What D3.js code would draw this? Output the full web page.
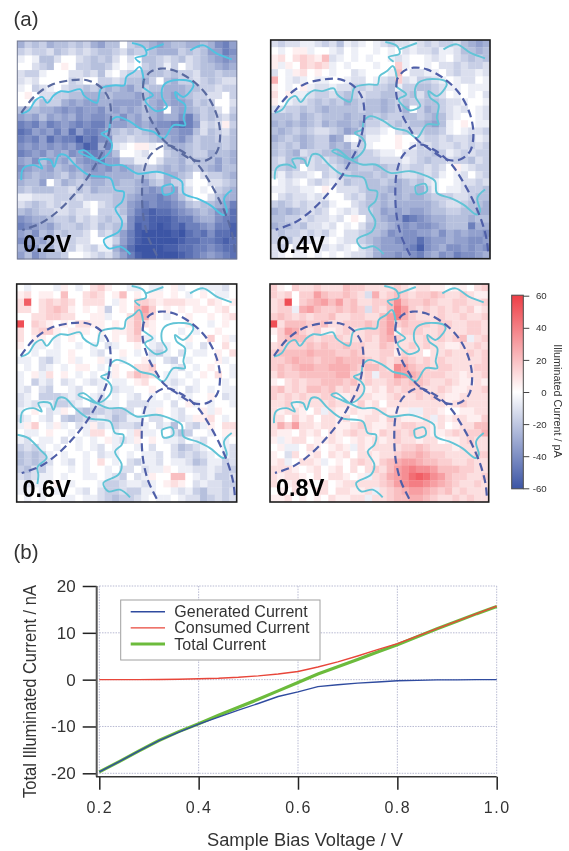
<!DOCTYPE html>
<html><head><meta charset="utf-8">
<script src="https://cdn.jsdelivr.net/npm/d3@7"></script>
<style>html,body{margin:0;padding:0;background:#fff}svg{display:block;filter:blur(0.5px);font-family:"Liberation Sans",Arial,sans-serif}</style>
</head><body><svg id="c" width="569" height="851"></svg>
<script>
// Heatmap cells, one letter per cell: '.'=0 pA, a..l = +5 pA steps, A..L = -5.6 pA steps
const heat02 = [
"ECDCEDDCDC EFDD.CDDEF EDDEEDEGHF","CBCCBDCBCB CDDCBDCCDE EECDCDFFHG","A.ADDB..BC DCDB.B.DDC BCDBCDEFGF",
"..BCD.a.CC DDCA.A.CDC AC.BCDDEFE","BCCA...BBC BDA.BCCDDD CDCCBDDCDD","BAB....CB. .CCBCDDEC. DECCBCDCBB",
"A.CBA.BCCD CDEDEFDCDD EEEDDCCBCC",".a.BBCCDDE EEDEEEFDEE EFEDCCBB.C","..BDCCEFEF FEEFFFFDEF EFFECDC..B",
"DDDEEFGFGF FGEFEFEDEF .EFEDCDB.C","FEFDFEFEGF GGFEGEFDEF EEGHECDCBD","HGHFHGFGHG HHFFFEFEFG GHIHFBCBaC",
"IHFGFHFIFH HGEDCDCDEF FFGGDBDCBD","HGHFIGHHJH IGGCCBCCDE EFGECDDCCD","GFGFGFGFHJ IEHBA.aaA. DEEDCDDDCD",
"HGFGEFEGFH HGFD..AB.. CDEDCCEDDE","FEGDFEFDFG GHFFCCAA.B DDECDDDFDE","GFEEFDEFEF GFGEFEDCCD EDEDCDEFDD",
"FEDEEDCEDE FFEEEEDDCB EEDC.BCCDE","EDDF.CEDCD EEDEDDEFDC ECCA..BBCD","DCDDDCCBDC EDDDDDEFGF EFCB.A.CDE",
"AABBBCCCBC CCCDDEFGGH GFDB..BDEE","BCDCBCBCCA .BCDDFGHGH HGFDCDDEFH","DEDCCBBCBB .CCCDFHIJI IHGFEDEGGI",
"GFEEDCCDBC BCDCCGIIJJ JIHHFEEGHI","HGFEFDCCDC BDCDDGJIJK JIJHHGFHHJ","FEGDECDCCB .CBDFHJKKK KJKIHIGIIJ",
"GFEFDCBCBB ..ACFHJKLK KKJIIHHIJI","EGFDECBCAB CAAEGIKKLK JJIIHHGHII","FDGEDDC..A BCBDFHJKKL KKJIHGFGHI"];
const heat04 = [
"BCBBAABCBD ABA.ABCBBA BCBCCBDEFE",".A.aaA..AB .A..A.A.BA BBCAABDDED","ab.bcbadBA .A.A..ABA. .ABA.BCDCD",
"aAa.cbcbA. A...A..cA. .A.BBCBCCB","B.Aab.a.A. .BA...Ad.B BAA.BCBBAB","e.ABA.AA.. ABB.ABCcBA CCBA.ABB.A",
"a.A.aABBAB BCCBCCDACC DDCBAA.AAA","b.aAABCCBC DCBCCDDCCD BDCB.A.A.B","a.ABBCDCDC EDCDDEDCDC CDDCBBA..A",
"BBCCDCDEDD DDCDDEDCE. CEDCBAB.AB","DDDCEDCDDD EDDDCDCCDD CDEDBA..AB","EDEDEDCEDE EDECCBCDCD DEFDA.a.AA",
"DEDCDCBBCD FECBBA.BCC CDDCA.ABBC","EDCDEDCCFE A.DAA..a.. BCCBCBBCAB","DCDCEDCCED EBCA...a.A CBCBBCBCBC",
"DCDEBCCDDE EDCCBAA.BB CCDCABCBCC","CBDCDBCBCD EECCCBBBAB CDCCBCCDBC","CCDC.BCCBC DDCCDDCCBC CBCB.aABCC",
"BACBBA.CBC CDDDCDCCBB CBCA.AB.BC",".ABA.BCBAB DCCDDCDEDC DBA..ABBCB","AABBAA.a.B BBCDDDEEDD ECA.AABCCD",
".BCBBABA.. BCBDDEDEDE EDCCCBBCDD","CDCBCBBCA. .BCDDEDEEE EEDCBBCDDE","EDEDCBCB.A BACCDFEFEF FEDDCCDDEE",
"DDCCBCBBAB .a.CDEFFIH GFEEDDDEDD","EDDCDBBAB. A.BDDDEFGF GGFEDDDHEE","CDCCBCBCA. BBCDDEGFGG FFEGEFEFFG",
"CBDBCBAA.A BBCDEFFGGG IGFFEFFGGF","BC.B..ABAB A.BCEFFFGH JGFEGGFGFG","BA.AA.A.A. ABBCEFFGFG HFEGFHGGFE"];
const heat06 = [
".A...Aa.A. bca..AA.AA .aA..AAAB.","ab.aa.d..b cb.ad.a.aa .a.A.a.AA.","bj.bcbcb.b bb.Aa.ccba bbbaa.ba.a",
"bb.bcdca.a .aC.a.dfc. a.a.aa.ab.","..bbccbb.. aaA..bdeb. A..a..a.ab","k.cba.a.bb aa.a.bdba. ...a..A.a.",
"b.bcca.aaa .a.aabd.a. ..A.A..a..","b.aa.A.a.. .A.a.bcAA. ...a..c.aA","a.AA.A..A. A.BA..a.AB A..A.B..b.",
"..A.AA.a.. AB..a.A.BC A.B.AA.a.b","AA.BCA.aA. .aA.A..aA. BC.A...aA.",".A.BA.A.aa .A.a..bbc. .AB.A.a..A",
"A.aAb.a.A. A.Aa.bdcb. AA.A.a.b.A","A.CAB.BA.A BA.AA.ab.. ABA.A...A.","AB.BC..AB. .A.BAA..a. .A.BA.A.AA",
"BA.CCCBAB. AB.A.AB.A. A.AA..a.BA","BABAACCBA. BBAA.BBBAA .B.aA.A..A","A.a.BAa.CD CCBCCB.AAa .AB..aAa..",
"BA.AB.CDCB BABDCAA.BB .ABAaab.A.","Aac.AaA.BA aBACBBCA.B AD.BCAa.bb",".AA.a..A.A bb.A.AbAA. .BDC..A.aa",
"AB.AA.B.A. A.aABAa.a. AAB.AB..A.","CBCA.A..A. AB.A..A.B. .BDCBA..AB","DCDCA.A..A .BAA.A.AAB .BCBCBA.AB",
"DCDCB.AB.A .b.A.BCAAB .AABDCAACB","CDBCA..A.A ..A.BB.BAA a.AABBABCC","BCBAA.A..A A.ABC.BAa. .dd.ABACCB",
"ABAA.a.A.. .ACCBAABA. aba.BABBCC","AA.A.A..AB .BCCBCCAA. .ABACDBBCB",".A.A..AA.A ABCDCCBA.A A.ABBDCBCB"];
const heat08 = [
"ca.cbbcbbb dccbbbbcba bbaa.aa.bc","cbc.ccfdcc dcbBebcdcb ccdcbbcbaa","bck.cdefdf cdbbccdgdc cdcbbccbbc",
"bccAefdccd cdcBcbdhfc bcbcbcbcab","cdcbcbccdb bccbbdfhec bbbcbbcbbc","kbdddccdbb cccdcdfcdc ccbccbbccb",
"acfecbcaab cbbccdfacc cbbcbbbccb",".cdddcbccc bbbcbdecbb bcbcbcdAbc","bccccdcdcc dccbbdcbbc bcbbaabbcb",
"cddddedddc cdcbbccacb b.bbcbbcbc","ccdeddcdde dddcbcbcdc bcbcbbbbbc","cdcdeeddee edcddcbgfd ccbccbbbcc",
"bdccddddde ecbcAccgfe dcccbbabbc","a.bcbccddd cdbcbbcdcd dcbbcbaaba","cdbcbddcdb cbbabacbcc cbbcbaabbc",
"cbcbcbbcca abbbaabcbb cbcbaabbbb","bbcabbbbcb bacab.bbbb bbbbabcbbb","babba.bAba abaabbaaaA Abba..aabb",
"bb.cab.bba b.abbacbaa abAbabbaac","becfbbabba abcbaabbcc bbab.abbdd","baa.bab.ba bcbbacbcbc bbaabcbcce",
"aAabb.aaba .abababcbb abb.aabcbb",".aAA.ba.ab aAbabbbbcc dcbbbabbbb","a.Bb.ab.ba b.bbabbcdd edccbbbbcc",
"abA.bbaA.a .bcbacdeff eddccbbcbb","bbba.ab.ab .b.bcbdfgh ggfdddccbb","babba.b.bb a.aAbcefgi jigfdccbbc",
"b.ab.a.b.a bbbbbcdfgh hgfedcbbcb",".a.b..bb.b baabAbcdef fedcdbcbbb","aab.a.a.ba abbAbbcdde edcbbcbcbb"];

// Contours traced in map units (x 50..710, y 27..682)
const boundaryMain = [[62,245],[85,235],[105,205],[125,195],[140,213],[160,190],[180,178],[205,180],[240,172],[250,190],[270,205],[290,212],[302,170],[345,160],[372,160],[378,135],[400,120],[418,105],[430,145],[428,165],[458,190],[435,205],[455,230],[470,238],[500,225],[485,195],[490,160],[520,145],[575,150],[580,160],[550,195],[525,180],[530,200],[555,220],[550,260],[555,280],[520,280],[490,320],[460,300],[420,290],[390,270],[350,255],[330,270],[325,295],[303,305],[325,320],[335,340],[320,370],[290,385],[265,375],[235,360],[250,355],[290,385],[325,400],[365,400],[410,425],[470,420],[520,435],[545,450],[550,485],[590,500],[630,520],[670,550],[680,540],[672,500],[695,475]];
const boundaryLower = [[62,445],[68,410],[100,400],[125,410],[115,385],[150,385],[160,405],[175,370],[195,370],[225,400],[265,430],[330,440],[345,475],[370,480],[365,510],[345,530],[365,570],[355,600],[310,625],[325,650],[360,645],[390,668]];
const boundaryTopA = [[395,33],[430,45],[438,68],[405,78],[420,92]];
const boundaryTopB = [[438,55],[490,36]];
const boundaryTopC = [[570,55],[610,40],[650,65],[695,82]];
const boundaryLoop = [[485,465],[515,458],[520,480],[490,488],[485,465]];
const boundaryCorner = [[52,480],[85,490],[120,525],[140,548],[112,578],[115,600],[112,628]];
const grainLeft = [[62,243],[100,195],[150,160],[210,145],[260,145],[300,165],[325,200],[332,245],[328,290],[315,340],[290,390],[262,437],[220,490],[170,540],[120,575],[65,595]];
const grainUpper = [[430,145],[428,190],[445,250],[470,295],[490,325],[530,355],[580,385],[620,385],[650,360],[660,310],[650,250],[620,190],[575,145],[520,115],[480,110],[450,120],[430,145]];
const grainLower = [[470,672],[445,620],[430,560],[425,490],[430,420],[450,370],[495,340],[540,355],[590,395],[625,445],[660,510],[685,570],[700,625],[705,672]];

const panelLabels = ["0.2V","0.4V","0.6V","0.8V"];
const scaleTicks = [60,40,20,0,-20,-40,-60];

const voltage   = [0.2,0.24,0.28,0.32,0.36,0.4,0.44,0.48,0.52,0.56,0.6,0.64,0.68,0.72,0.76,0.8,0.84,0.88,0.92,0.96,1.0];
const generated = [-19.7,-17.5,-15.2,-13,-11.2,-9.5,-8,-6.5,-5.1,-3.6,-2.6,-1.5,-1.1,-0.75,-0.5,-0.25,-0.15,-0.05,-0.05,0,0];
const consumed  = [0,0,0,0.02,0.1,0.2,0.3,0.5,0.8,1.2,1.75,2.7,3.8,5.05,6.4,7.7,9.3,10.9,12.5,14.1,15.7];
const total     = [-19.7,-17.5,-15.2,-13,-11.1,-9.4,-7.6,-5.9,-4.2,-2.4,-0.6,1.2,2.75,4.3,5.9,7.45,9.15,10.85,12.45,14.1,15.6];
const xTicks = [0.2,0.4,0.6,0.8,1.0];
const yTicks = [-20,-10,0,10,20];
const legendNames = ["Generated Current","Consumed Current","Total Current"];

const svg = d3.select("#c");
const color = d3.scaleLinear().domain([-60,0,60]).range(["#3c55a5","#ffffff","#ee3e46"]).clamp(true);
const levelOf = ch => {
  if (ch === ".") return 0;
  const c = ch.charCodeAt(0);
  return c >= 97 ? (c-96)*5 : -(c-64)*5.6;
};
const frames = [
 {heat:heat02,x:17.3,y:41,w:219.5,h:218,stroke:"#70778f",sw:1,dash:"#5a6a9f",lab:[23,252]},
 {heat:heat04,x:270.7,y:40,w:219.3,h:218.7,stroke:"#1c1c1c",sw:1.6,dash:"#4f5fa8",lab:[276.5,253]},
 {heat:heat06,x:16.7,y:284,w:220,h:218,stroke:"#1c1c1c",sw:1.6,dash:"#4f5fa8",lab:[22.5,497]},
 {heat:heat08,x:270,y:284,w:218.7,h:218,stroke:"#1c1c1c",sw:1.6,dash:"#4f5fa8",lab:[276,496]}
];
const idx = d3.range(30);
frames.forEach((f,i)=>{
  const g = svg.append("g");
  const cid = "clip"+i;
  svg.append("clipPath").attr("id",cid).append("rect").attr("x",f.x).attr("y",f.y).attr("width",f.w).attr("height",f.h);
  const bx = d3.scaleBand().domain(idx).range([f.x,f.x+f.w]);
  const by = d3.scaleBand().domain(idx).range([f.y,f.y+f.h]);
  const cells = f.heat.flatMap((row,r)=>Array.from(row.replace(/ /g,"")).map((ch,c)=>({r,c,v:levelOf(ch)})));
  g.append("g").selectAll("rect").data(cells).join("rect")
   .attr("x",d=>bx(d.c)).attr("y",d=>by(d.r)).attr("width",bx.bandwidth()+0.3).attr("height",by.bandwidth()+0.3)
   .attr("fill",d=>color(d.v));
  const mx = d3.scaleLinear().domain([50,710]).range([f.x,f.x+f.w]);
  const my = d3.scaleLinear().domain([27,682]).range([f.y,f.y+f.h]);
  const smooth = d3.line().x(d=>mx(d[0])).y(d=>my(d[1])).curve(d3.curveCatmullRom);
  const over = g.append("g").attr("clip-path",`url(#${cid})`);
  const bounds = [boundaryMain,boundaryLower,boundaryTopA,boundaryTopB,boundaryTopC,boundaryLoop];
  if (i===2) bounds.push(boundaryCorner);
  bounds.forEach(b=>over.append("path").attr("d",smooth(b)).attr("fill","none").attr("stroke",i===0?"#4fc3e0":"#62c4d6").attr("stroke-width",1.9).attr("stroke-linejoin","round"));
  [grainLeft,grainUpper,grainLower].forEach(b=>over.append("path").attr("d",smooth(b)).attr("fill","none").attr("stroke",f.dash).attr("stroke-width",2.2).attr("stroke-dasharray","8,4.5"));
  g.append("rect").attr("x",f.x).attr("y",f.y).attr("width",f.w).attr("height",f.h).attr("fill","none").attr("stroke",f.stroke).attr("stroke-width",f.sw);
  g.append("text").attr("x",f.lab[0]).attr("y",f.lab[1]).attr("font-size",23.5).attr("font-weight","bold").attr("fill","#000").text(panelLabels[i]);
});

// colour bar
const barY = d3.scaleLinear().domain([-60,60]).range([488.3,295.7]);
const grad = svg.append("defs").append("linearGradient").attr("id","bar").attr("x1",0).attr("x2",0).attr("y1",1).attr("y2",0);
[-60,0,60].forEach(v=>grad.append("stop").attr("offset",(v+60)/120).attr("stop-color",color(v)));
svg.append("rect").attr("x",511.7).attr("y",295.2).attr("width",11.6).attr("height",193.6).attr("fill","url(#bar)").attr("stroke","#4a4a4a").attr("stroke-width",1);
const barAxis = svg.append("g").attr("transform","translate(523.3,0)")
  .call(d3.axisRight(barY).tickValues(scaleTicks).tickSize(6).tickPadding(1).tickFormat(String));
barAxis.select(".domain").remove();
barAxis.selectAll("line").attr("stroke","#444");
barAxis.selectAll("text").attr("text-anchor","end").attr("x",23.4).attr("font-size",9.7).attr("fill","#333").attr("font-family","inherit");
svg.append("text").attr("transform","translate(554,401) rotate(90)").attr("text-anchor","middle").attr("font-size",10.8).attr("fill","#333").text("Illuminated Current / pA");

// panel letters
svg.append("text").attr("x",13.5).attr("y",26).attr("font-size",20.5).attr("fill","#333").text("(a)");
svg.append("text").attr("x",13.5).attr("y",559).attr("font-size",20.5).attr("fill","#333").text("(b)");

// line chart
const x = d3.scaleLinear().domain([0.2,1.0]).range([99.3,496.7]);
const y = d3.scaleLinear().domain([-20,20]).range([773.3,586]);
const grid = svg.append("g").attr("stroke","#b8bad2").attr("stroke-width",1).attr("stroke-dasharray","1.5,1.2");
xTicks.forEach(t=>grid.append("line").attr("x1",x(t)).attr("x2",x(t)).attr("y1",y(20)).attr("y2",y(-20)+1));
yTicks.forEach(t=>grid.append("line").attr("x1",x(0.2)).attr("x2",x(1)).attr("y1",y(t)).attr("y2",y(t)));

const pts = a => a.map((v,i)=>[voltage[i],v]);
const ln = d3.line().x(d=>x(d[0])).y(d=>y(d[1]));
const series = [
  {vals:generated,name:legendNames[0],col:"#2f4b9f",w:1.4,row:0,z:1},
  {vals:consumed,name:legendNames[1],col:"#e8463a",w:1.4,row:1,z:2},
  {vals:total,name:legendNames[2],col:"#6cbb3c",w:3.2,row:2,z:0}
];
series.slice().sort((a,b)=>a.z-b.z).forEach(s=>svg.append("path").attr("d",ln(pts(s.vals))).attr("fill","none").attr("stroke",s.col).attr("stroke-width",s.w));

const yAxis = svg.append("g").attr("transform","translate(96.7,0)")
  .call(d3.axisLeft(y).tickValues(yTicks).tickSize(14).tickPadding(7).tickFormat(String));
yAxis.select(".domain").remove();
yAxis.selectAll("line").attr("stroke","#222").attr("stroke-width",1.5);
yAxis.selectAll("text").attr("font-size",17).attr("fill","#333").attr("font-family","inherit");
const xAxis = svg.append("g").attr("transform","translate(0,776.7)")
  .call(d3.axisBottom(x).tickValues(xTicks).tickSize(13).tickPadding(12).tickFormat(d3.format(".1f")));
xAxis.select(".domain").remove();
xAxis.selectAll("line").attr("stroke","#222").attr("stroke-width",1.5);
xAxis.selectAll("text").attr("font-size",16).attr("letter-spacing",1.5).attr("fill","#333").attr("font-family","inherit");
svg.append("line").attr("x1",96.7).attr("x2",96.7).attr("y1",y(20)).attr("y2",776.7).attr("stroke","#555").attr("stroke-width",2);
svg.append("line").attr("x1",96).attr("x2",x(1)).attr("y1",776.7).attr("y2",776.7).attr("stroke","#333").attr("stroke-width",1.5);

svg.append("text").attr("transform","translate(36,691.5) rotate(-90)").attr("text-anchor","middle").attr("font-size",17.5).attr("fill","#333")
  .attr("textLength",213).attr("lengthAdjust","spacingAndGlyphs").text("Total Illuminated Current / nA");
svg.append("text").attr("x",305).attr("y",846).attr("text-anchor","middle").attr("font-size",17.5).attr("fill","#333")
  .attr("textLength",196).attr("lengthAdjust","spacingAndGlyphs").text("Sample Bias Voltage / V");

// legend
const legendY = d3.scalePoint().domain([0,1,2]).range([611.7,644]);
svg.append("rect").attr("x",120.7).attr("y",600).attr("width",199.3).attr("height",60).attr("fill","#fff").attr("stroke","#a0a0a0").attr("stroke-width",1);
series.forEach(s=>{
  const cy = legendY(s.row);
  svg.append("line").attr("x1",130.7).attr("x2",165).attr("y1",cy).attr("y2",cy).attr("stroke",s.col).attr("stroke-width",s.w);
  svg.append("text").attr("x",174.3).attr("y",cy+5.6).attr("font-size",16).attr("fill","#333").text(s.name);
});
</script></body></html>
